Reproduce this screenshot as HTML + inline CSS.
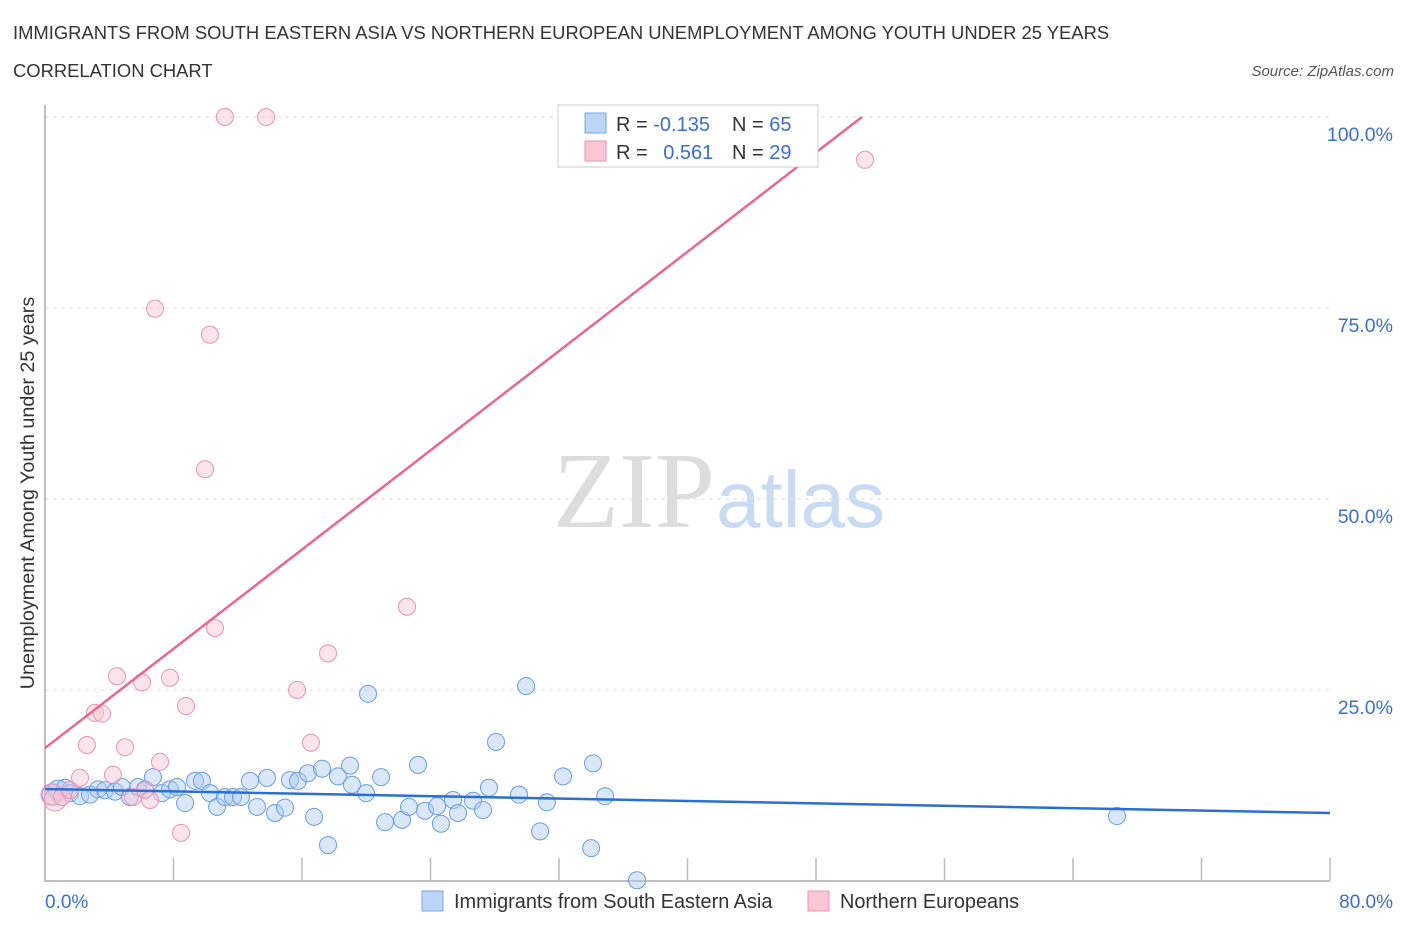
<!DOCTYPE html>
<html><head><meta charset="utf-8"><style>
body{margin:0;background:#fff;font-family:"Liberation Sans",sans-serif}
svg text{font-family:"Liberation Sans",sans-serif}
</style></head><body>
<svg id="c" width="1406" height="930">
<text x="13" y="39" font-size="18.4" fill="#333">IMMIGRANTS FROM SOUTH EASTERN ASIA VS NORTHERN EUROPEAN UNEMPLOYMENT AMONG YOUTH UNDER 25 YEARS</text>
<text x="13" y="77" font-size="18.4" fill="#333">CORRELATION CHART</text>
<text x="1394" y="76" font-size="15" fill="#555" font-style="italic" text-anchor="end">Source: ZipAtlas.com</text>
<text x="715" y="527" font-size="108" fill="#ddd" text-anchor="end" style="font-family:'Liberation Serif',serif">ZIP</text>
<text x="716" y="527" font-size="80" fill="#c9dbf2">atlas</text>
<text transform="translate(34,493) rotate(-90)" font-size="19.8" fill="#333" text-anchor="middle">Unemployment Among Youth under 25 years</text>
<g id="grid"></g><g id="pts"></g><g id="lines"></g>
<g>
<rect x="558" y="105" width="260" height="62" fill="#fff" stroke="#ccc"/>
<rect x="585" y="113" width="21" height="20" fill="#bcd4f6" stroke="#7aa6e6"/>
<rect x="585" y="141" width="21" height="20" fill="#f9c6d5" stroke="#eb93ae"/>
<text x="616" y="131" font-size="20" fill="#333">R = <tspan fill="#3a6fd0">-0.135</tspan></text>
<text x="732" y="131" font-size="20" fill="#333">N = <tspan fill="#3a6fd0">65</tspan></text>
<text x="616" y="159" font-size="20" fill="#333">R = <tspan fill="#3a6fd0" dx="10">0.561</tspan></text>
<text x="732" y="159" font-size="20" fill="#333">N = <tspan fill="#3a6fd0">29</tspan></text>
</g>
<g>
<rect x="422" y="891" width="21" height="20" fill="#bcd4f6" stroke="#7aa6e6"/>
<text x="454" y="908" font-size="19.9" fill="#333">Immigrants from South Eastern Asia</text>
<rect x="808" y="891" width="21" height="20" fill="#f9c6d5" stroke="#eb93ae"/>
<text x="840" y="908" font-size="19.9" fill="#333">Northern Europeans</text>
</g>
</svg>
<script>
const blueX=[0.44,0.81,1.25,1.56,2.18,2.8,3.3,3.74,4.36,4.79,5.29,5.79,6.23,6.72,7.28,7.78,8.22,8.72,9.34,9.77,10.27,10.71,11.2,11.7,12.2,12.76,13.2,13.82,14.32,14.94,15.25,15.75,16.37,16.75,17.25,17.62,18.24,18.99,19.11,19.99,20.11,20.92,21.17,22.23,22.66,23.22,23.66,24.41,24.65,25.4,25.71,26.65,27.27,27.64,28.08,29.51,29.95,30.82,31.25,32.25,34.0,34.12,34.87,36.86,66.74];
const blueY=[11.3,11.9,12.2,11.5,11.1,11.3,12.0,11.9,11.7,12.3,11.0,12.3,12.0,13.6,11.5,12.0,12.3,10.2,13.1,13.1,11.5,9.7,11.0,11.0,11.0,13.1,9.7,13.5,8.9,9.6,13.2,13.1,14.1,8.4,14.7,4.7,13.7,15.1,12.6,11.5,24.5,13.6,7.7,8.0,9.7,15.2,9.2,9.8,7.5,10.6,8.9,10.5,9.3,12.2,18.2,11.3,25.5,6.5,10.3,13.7,4.3,15.4,11.1,0.1,8.5];
const pinkX=[0.44,0.62,1.06,1.56,2.18,2.61,3.11,3.55,4.23,4.48,4.98,5.48,6.04,6.23,6.54,6.85,7.16,7.78,8.47,8.78,9.96,10.27,10.58,11.2,13.76,15.69,16.56,17.62,22.54,51.05];
const pinkY=[11.3,10.6,11.0,11.9,13.5,17.8,22.0,21.9,13.9,26.8,17.5,11.0,26.0,11.9,10.6,74.9,15.6,26.6,6.3,22.9,53.9,71.5,33.1,100,100,25.0,18.1,29.8,35.9,94.4];
const yTicks=[25,50,75,100];
const yTickLabels=["25.0%","50.0%","75.0%","100.0%"];
const blueTrend=[12.04,8.9];
const pinkTrend=[17.4,1.624];
const NS="http://www.w3.org/2000/svg";
const X=v=>45+v/80*1285, Y=v=>881-v/100*764;
function mk(t,a,p){const e=document.createElementNS(NS,t);for(const k in a)e.setAttribute(k,a[k]);p.appendChild(e);return e;}
const g=document.getElementById('grid');
yTicks.forEach((t,i)=>{
 const l=mk('line',{x1:45,x2:1330,y1:Y(t),y2:Y(t),stroke:'#ddd','stroke-dasharray':'4,4'},g);
 
 
 const tx=mk('text',{x:1393,y:Y(t)+24,'font-size':19.5,fill:'#3a6fd0','text-anchor':'end'},g);
 tx.textContent=yTickLabels[i];
 
 
});
const ax=mk('path',{d:'M45,105V881H1330',fill:'none',stroke:'#aaa','stroke-width':1.5},g);


for(let i=1;i<=10;i++){const xv=i*8;const tk=mk('line',{x1:X(xv),x2:X(xv),y1:858,y2:881,stroke:'#bbb','stroke-width':1.5},g);
 
 }
const xl=mk('text',{x:45,y:908,'font-size':19,fill:'#3a6fd0'},g);xl.textContent='0.0%';


const xr=mk('text',{x:1393,y:908,'font-size':19,fill:'#3a6fd0','text-anchor':'end'},g);xr.textContent='80.0%';


const p=document.getElementById('pts');
blueX.forEach((x,i)=>{const c=mk('circle',{cx:X(x),cy:Y(blueY[i]),r:i<2?10:8.5,fill:'rgba(170,202,242,0.45)',stroke:'#6a9de0','stroke-width':1},p);
 
 });
pinkX.forEach((x,i)=>{const c=mk('circle',{cx:X(x),cy:Y(pinkY[i]),r:i<2?11:8.5,fill:'rgba(248,196,212,0.45)',stroke:'#ea93ad','stroke-width':1},p);
 
 });
const L=document.getElementById('lines');
const bl=mk('line',{x1:X(0),y1:Y(blueTrend[0]),x2:X(80),y2:Y(blueTrend[1]),stroke:'#2a6fd6','stroke-width':2.5},L);


const xe=(100-pinkTrend[0])/pinkTrend[1];
const pl=mk('line',{x1:X(0),y1:Y(pinkTrend[0]),x2:X(xe),y2:Y(100),stroke:'#e8668f','stroke-width':2.5},L);


</script>
</body></html>
